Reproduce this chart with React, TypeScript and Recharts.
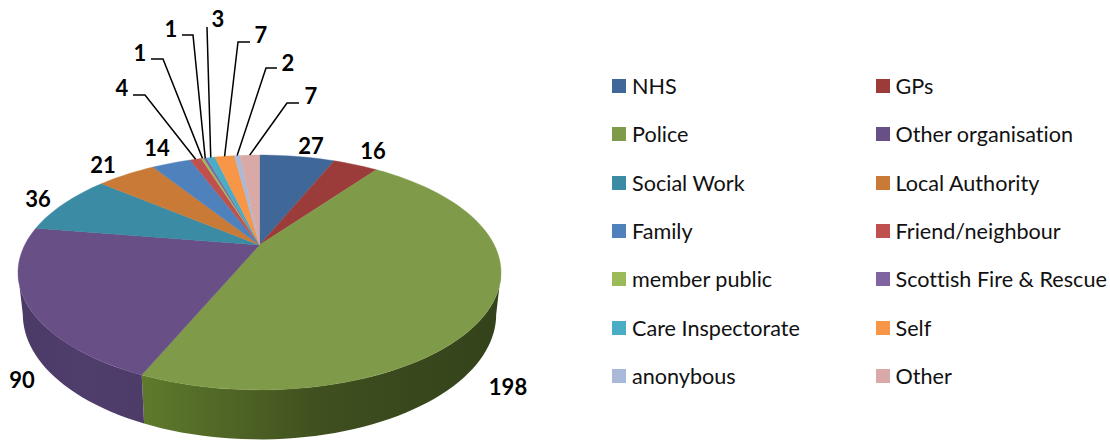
import { Legend, Pie, PieChart } from "recharts";

const CATEGORIES = [
  "NHS", "GPs", "Police", "Other organisation", "Social Work", "Local Authority", "Family",
  "Friend/neighbour", "member public", "Scottish Fire & Rescue", "Care Inspectorate", "Self",
  "anonybous", "Other",
];
const VALUES = [27, 16, 198, 90, 36, 21, 14, 4, 1, 1, 3, 7, 2, 7];
const COLORS = [
  "#3f6797", "#9b3c3a", "#7f9a48", "#684f85", "#3a8ba3", "#c97a36", "#4f81bd",
  "#c0504d", "#9bbb59", "#8064a2", "#4bacc6", "#f79646", "#a9b9d8", "#d9a9a8",
];

// label text centres, and the elbow of the leader line for the small slices
const LABEL_AT: [number, number][] = [
  [311, 145], [373, 150], [508, 386], [22, 379], [38, 198], [103, 164], [157, 147],
  [122, 87], [140, 52], [171, 28], [218, 18], [261, 34], [288, 62], [311, 95],
];
const LEADERS: Record<number, number[][]> = {
  7: [[133, 95], [145, 95]],
  8: [[151, 59], [163, 59]],
  9: [[182, 35], [193, 35]],
  10: [[207, 27]],
  11: [[250, 42], [238, 42]],
  12: [[277, 68], [266, 68]],
  13: [[299, 103], [287, 103]],
};

// side wall gradient, left to right
const WALLS: Record<number, string[]> = {
  2: ["#5f7a2c", "#3f4f1f", "#33421a"],
  3: ["#4b3a66", "#4f3d6c", "#4d3b68"],
};

const tableData = CATEGORIES.map((name, i) => ({ name, value: VALUES[i], fill: COLORS[i] }));

const FONT = "Lato, Carlito, sans-serif";
const TILT = 0.4727; // vertical squash of the disc
const PERSP = 0.234; // near edge is drawn bigger than far edge
const BOTTOM_SCALE = 0.98;
const DEPTH = 0.171; // wall height, in radii
const SIDE = (Math.acos(-PERSP) * 180) / Math.PI; // where the wall's silhouette starts

// theta is clockwise from 12 o'clock, in degrees
function project(cx: number, cy: number, r: number, theta: number, bottom = false) {
  const a = (theta * Math.PI) / 180;
  const u = Math.sin(a);
  const v = -Math.cos(a);
  const w = 1 - PERSP * v;
  const s = bottom ? BOTTOM_SCALE : 1;
  const h = bottom ? DEPTH * r : 0;
  return [cx + (s * r * u) / w, cy + (h + s * r * TILT * v) / w];
}

function arc(cx: number, cy: number, r: number, from: number, to: number, bottom = false) {
  const n = Math.max(2, Math.ceil(Math.abs(to - from) / 2));
  const pts = [];
  for (let i = 0; i <= n; i++) {
    pts.push(project(cx, cy, r, from + ((to - from) * i) / n, bottom));
  }
  return pts;
}

const toPath = (pts: number[][]) => "M" + pts.map((p) => `${p[0].toFixed(2)},${p[1].toFixed(2)}`).join("L") + "Z";

function Slice3D(props: any) {
  const { cx, cy, outerRadius, startAngle, endAngle, fill, index } = props;
  const from = 90 - startAngle;
  const to = 90 - endAngle;
  const wallFrom = Math.max(from, SIDE);
  const wallTo = Math.min(to, 360 - SIDE);
  const stops = WALLS[index];
  return (
    <g>
      {stops && wallTo > wallFrom && (
        <>
          <defs>
            <linearGradient id={`wall-${index}`} x1="0" x2="1" y1="0" y2="0">
              {stops.map((c, i) => (
                <stop key={i} offset={i / (stops.length - 1)} stopColor={c} />
              ))}
            </linearGradient>
          </defs>
          <path
            d={toPath([
              ...arc(cx, cy, outerRadius, wallFrom, wallTo),
              ...arc(cx, cy, outerRadius, wallTo, wallFrom, true),
            ])}
            fill={`url(#wall-${index})`}
          />
        </>
      )}
      <path
        d={toPath([[cx, cy], ...arc(cx, cy, outerRadius, from, to)])}
        fill={fill}
        stroke={fill}
        strokeWidth={0.4}
      />
    </g>
  );
}

function SliceLabel(props: any) {
  const { cx, cy, outerRadius, midAngle, value, index } = props;
  const [tx, ty] = LABEL_AT[index];
  const leader = LEADERS[index];
  return (
    <g>
      {leader && (
        <polyline
          points={[...leader, project(cx, cy, outerRadius, 90 - midAngle)].map((p) => p.join(",")).join(" ")}
          fill="none"
          stroke="#000"
          strokeWidth={1.5}
        />
      )}
      <text
        x={tx}
        y={ty}
        textAnchor="middle"
        dominantBaseline="central"
        fontFamily={FONT}
        fontWeight={700}
        fontSize={22}
        fill="#000"
      >
        {value}
      </text>
    </g>
  );
}

function LegendGrid({ payload }: any) {
  return (
    <div style={{ display: "grid", gridTemplateColumns: "263.5px 235px", gridAutoRows: "48.3px" }}>
      {(payload ?? []).map((item: any) => (
        <div key={item.value} style={{ display: "flex", alignItems: "center", whiteSpace: "nowrap" }}>
          <span style={{ width: 14, height: 14, background: item.color, marginRight: 6, flex: "none" }} />
          <span style={{ fontFamily: FONT, fontSize: 21.6, fontVariantLigatures: "none", color: "#111" }}>
            {item.value}
          </span>
        </div>
      ))}
    </div>
  );
}

export default function App() {
  return (
    <div style={{ position: "absolute", left: 0, top: 0, width: 1110, height: 441, background: "#fff" }}>
      <PieChart width={1110} height={441} margin={{ top: 0, right: 0, bottom: 0, left: 0 }}>
        <Pie
          data={tableData}
          dataKey="value"
          nameKey="name"
          cx={259.5}
          cy={245}
          innerRadius={0}
          outerRadius={234.8}
          startAngle={90}
          endAngle={-270}
          stroke="none"
          shape={(p: any) => <Slice3D {...p} />}
          label={(p: any) => <SliceLabel {...p} />}
          labelLine={false}
          isAnimationActive={false}
        />
        <Legend
          layout="vertical"
          align="right"
          verticalAlign="top"
          itemSorter={null}
          content={(p: any) => <LegendGrid {...p} />}
          wrapperStyle={{ left: 612, top: 62, width: 498 }}
        />
      </PieChart>
    </div>
  );
}
